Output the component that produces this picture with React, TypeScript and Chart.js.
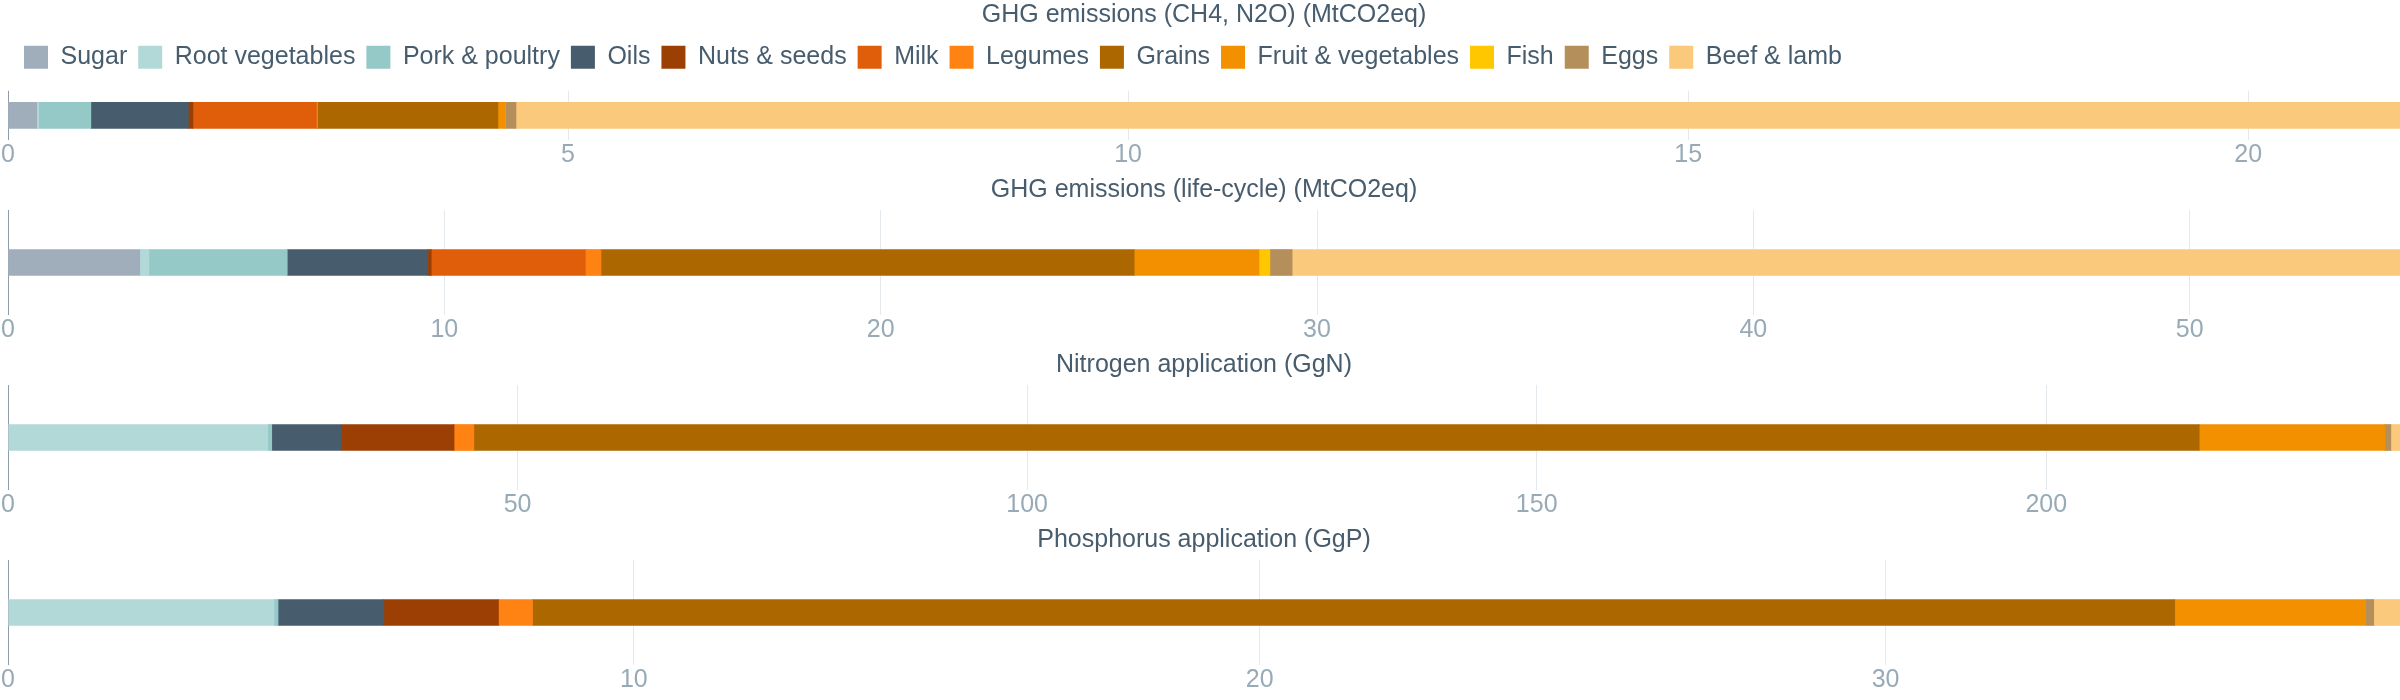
import React, { useEffect, useRef } from "react";
import { Chart, registerables } from "chart.js";

Chart.register(...registerables);

if (typeof document !== "undefined") {
  document.body.style.margin = "0";
  document.documentElement.style.overflow = "hidden";
}

// ---- data ----
const seriesNames = [
  "Sugar",
  "Root vegetables",
  "Pork & poultry",
  "Oils",
  "Nuts & seeds",
  "Milk",
  "Legumes",
  "Grains",
  "Fruit & vegetables",
  "Fish",
  "Eggs",
  "Beef & lamb",
];

const seriesColors = [
  "#a0aebb",
  "#b2d9d8",
  "#94c9c8",
  "#475c6d",
  "#9c3f04",
  "#e05e0a",
  "#fe8312",
  "#ad6700",
  "#f29000",
  "#ffc700",
  "#b58f5b",
  "#fbc97c",
];

const panelTitles = [
  "GHG emissions (CH4, N2O) (MtCO2eq)",
  "GHG emissions (life-cycle) (MtCO2eq)",
  "Nitrogen application (GgN)",
  "Phosphorus application (GgP)",
];

// values per panel, in the order of seriesNames
const ghgDirect = [0.257, 0.017, 0.466, 0.87, 0.041, 1.103, 0.01, 1.61, 0.065, 0, 0.096, 16.82];
const ghgLifeCycle = [3.02, 0.21, 3.17, 3.22, 0.08, 3.53, 0.36, 12.22, 2.86, 0.25, 0.51, 25.39];
const nitrogenApp = [0, 25.49, 0.39, 6.81, 11.07, 0, 1.95, 169.3, 18.2, 0, 0.6, 0.9];
const phosphorusApp = [0, 4.25, 0.065, 1.69, 1.83, 0, 0.545, 26.24, 3.05, 0, 0.13, 0.42];

const tickSteps = [5, 10, 50, 10];

// ---- styles ----
const TEXT = "#475c6d";
const TICK = "#97aab6";
const GRID = "#e4e9ee";
const ZERO = "#8d9dab";
const FONT = "'Liberation Sans', Arial, Helvetica, sans-serif";

const legendTweak = {
  id: "legendTweak",
  afterInit(chart: any) {
    const lg = chart.legend;
    if (!lg) return;
    const fit = lg.fit;
    lg.fit = function () {
      fit.call(this);
      this.height += 11;
    };
  },
  afterLayout(chart: any) {
    const lg = chart.legend;
    if (lg) {
      lg.left += 5;
      lg.right += 5;
    }
  },
};

function Panel({ title, values, step, showLegend }: { title: string; values: number[]; step: number; showLegend: boolean }) {
  const ref = useRef<HTMLCanvasElement>(null);
  useEffect(() => {
    const total = values.reduce((a, b) => a + b, 0);
    const chart = new Chart(ref.current as HTMLCanvasElement, {
      type: "bar",
      data: {
        labels: [title],
        datasets: seriesNames.map((name, i) => ({
          label: name,
          data: [values[i]],
          backgroundColor: seriesColors[i],
          borderWidth: 0,
          barThickness: 26,
        })),
      },
      options: {
        indexAxis: "y",
        responsive: false,
        animation: false,
        layout: { padding: { left: 8, right: 0, top: 0, bottom: 5 } },
        scales: {
          x: {
            stacked: true,
            min: 0,
            max: total,
            ticks: {
              stepSize: step,
              includeBounds: false,
              color: TICK,
              font: { size: 25, family: FONT },
              padding: 0,
              maxRotation: 0,
            },
            grid: {
              drawTicks: false,
              color: (ctx: any) => (ctx.tick && ctx.tick.value === 0 ? ZERO : GRID),
            },
            border: { display: false },
            afterBuildTicks: (s: any) => {
              s.ticks = s.ticks.filter((t: any) => Math.abs(t.value / step - Math.round(t.value / step)) < 1e-6);
            },
          },
          y: { stacked: true, display: false },
        },
        plugins: {
          title: {
            display: true,
            text: title,
            color: TEXT,
            font: { size: 25, weight: "normal", family: FONT },
            padding: { top: 0, bottom: showLegend ? 3.8 : 5 },
          },
          legend: {
            display: showLegend,
            align: "start",
            labels: {
              boxWidth: 24,
              boxHeight: 23,
              padding: 11,
              color: TEXT,
              font: { size: 25, family: FONT },
            },
          },
          tooltip: { enabled: false },
        },
      } as any,
      plugins: showLegend ? [legendTweak] : [],
    });
    return () => chart.destroy();
  }, []);
  return <canvas ref={ref} width={2400} height={175} style={{ display: "block" }} />;
}

const panelValues = [ghgDirect, ghgLifeCycle, nitrogenApp, phosphorusApp];

export default function App() {
  return (
    <div style={{ width: 2400, height: 700, overflow: "hidden", background: "#fff" }}>
      {panelTitles.map((t, i) => (
        <Panel key={t} title={t} values={panelValues[i]} step={tickSteps[i]} showLegend={i === 0} />
      ))}
    </div>
  );
}
